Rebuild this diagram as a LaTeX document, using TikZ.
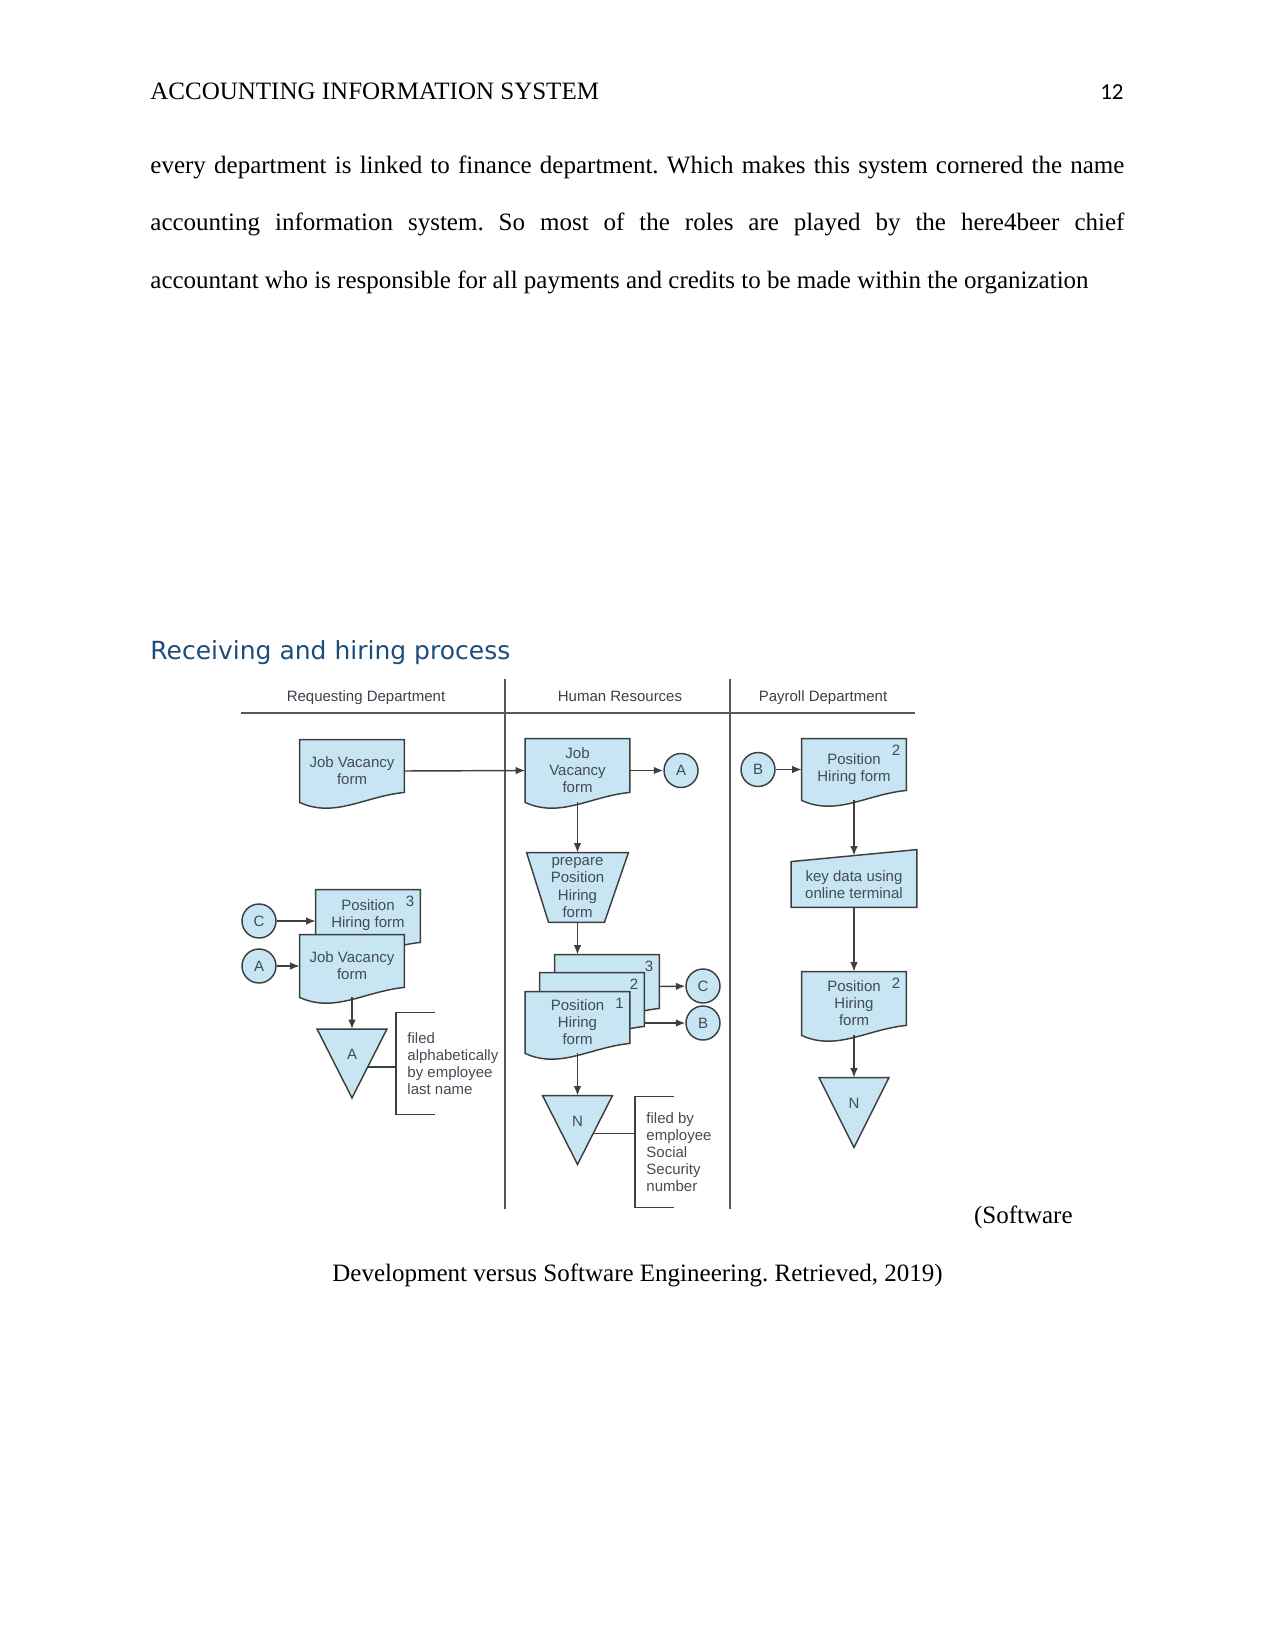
\documentclass[tikz,border=0pt]{standalone}
\usepackage{fontspec}
\setmainfont{Liberation Serif}
\newfontfamily\diagfont{Liberation Sans}
\newfontfamily\headfont{DejaVu Sans}
\newfontfamily\numfont{Carlito}
\usetikzlibrary{arrows.meta,calc,backgrounds}
\frenchspacing

\definecolor{formfill}{RGB}{200,229,243}
\definecolor{formline}{RGB}{60,62,64}
\definecolor{formtext}{RGB}{66,76,86}
\definecolor{laneline}{RGB}{88,88,88}
\definecolor{headblue}{RGB}{31,77,121}

\newcommand{\px}{*0.48pt}
\newcommand{\diagtext}{\diagfont\fontsize{7.2}{8.2}\selectfont}
\newcommand{\pagetext}{\fontsize{12}{14}\selectfont}

% outlines drawn behind the named nodes
\newcommand{\docline}[1]{\path[outline] (#1.north west) -- (#1.north east) -- ($(#1.south east)+(0,-10)$) .. controls +(-40,4) and +(35,16) .. (#1.south west) -- cycle;}
\newcommand{\fileline}[1]{\path[outline] (#1.north west) -- (#1.north east) -- (#1.south) -- cycle;}

\begin{document}
\begin{tikzpicture}[x=0.48pt,y=-0.48pt,
  outline/.style={draw=formline,fill=formfill,line width=0.7pt},
  lane/.style={draw=laneline,line width=0.7pt},
  flow/.style={draw=formline,line width=0.7pt,-{Latex[length=4.5pt,width=3.6pt]}},
  doc/.style={minimum width=104\px,minimum height=62\px,inner sep=0pt,align=center,font=\diagtext,text=formtext},
  conn/.style={circle,draw=formline,fill=formfill,line width=0.7pt,minimum size=34\px,inner sep=0pt,font=\diagtext,text=formtext},
  filebox/.style={minimum width=69\px,minimum height=68\px,inner sep=0pt,text height=5.2pt,text depth=8.6pt,font=\diagtext,text=formtext},
  note/.style={anchor=west,align=left,inner xsep=11\px,inner ysep=0pt,font=\diagtext,text=formtext},
  numlbl/.style={anchor=north east,inner sep=2.8pt,font=\diagtext,text=formtext},
  lanehead/.style={anchor=base,inner sep=0pt,font=\diagtext,text=formtext!85!black}]
\useasboundingbox (0,0) rectangle (1275,1651);

% page text
\node[anchor=base west,inner sep=0pt,font=\pagetext] (hdr) at (150,100) {ACCOUNTING INFORMATION SYSTEM};
\node[anchor=base east,inner sep=0pt,font=\numfont\fontsize{11}{13}\selectfont] (pgnum) at (1124,100) {12};
\node[anchor=base west,inner sep=0pt,font=\pagetext] (body1) at (150,174) {\makebox[467.5pt][s]{every department is linked to finance department. Which makes this system cornered the name}};
\node[anchor=base west,inner sep=0pt,font=\pagetext] (body2) at (150,231) {\makebox[467.5pt][s]{accounting information system. So most of the roles are played by the here4beer chief}};
\node[anchor=base west,inner sep=0pt,font=\pagetext] (body3) at (150,288) {accountant who is responsible for all payments and credits to be made within the organization};
\node[anchor=base west,inner sep=0pt,font=\headfont\fontsize{12}{14}\selectfont,text=headblue] (heading) at (150,659) {Receiving and hiring process};
\node[anchor=base east,inner sep=0pt,font=\pagetext] (cite1) at (1073,1223) {(Software};
\node[anchor=base,inner sep=0pt,font=\pagetext] (cite2) at (637.5,1281) {Development versus Software Engineering. Retrieved, 2019)};

% lanes
\node[lanehead] (laneq) at (366,701) {Requesting Department};
\node[lanehead] (laneh) at (620,701) {Human Resources};
\node[lanehead] (lanep) at (823,701) {Payroll Department};
\draw[lane] (241,713) -- (915,713);
\draw[lane] (505,679) -- (505,1209);
\draw[lane] (730,679) -- (730,1209);

% requesting department
\node[doc] (rdjv) at (352,771) {Job Vacancy\\form};
\node[doc,text depth=7.3pt] (rdphf) at (368,921) {Position\\Hiring form};
\node[numlbl] (rdphfnum) at (rdphf.north east) {3};
\node[doc] (rdjvb) at (352,966) {Job Vacancy\\form};
\node[conn] (rdc) at (259,921) {C};
\node[conn] (rda) at (259,966) {A};
\node[filebox] (rdfile) at (352,1063.5) {A};
\node[note,minimum height=101\px] (rdnote) at (396,1063.5) {filed\\alphabetically\\by employee\\last name};

% human resources
\node[doc,minimum height=63\px] (hrjv) at (577.5,770.5) {Job\\Vacancy\\form};
\node[conn] (hra) at (681,770.5) {A};
\node[minimum width=101\px,minimum height=69\px,inner sep=0pt,align=center,font=\diagtext,text=formtext] (prep) at (577.5,887.5) {prepare\\Position\\Hiring\\form};
\node[doc,minimum height=63\px] (hrdoc3) at (607,986.5) {};
\node[numlbl] (hrnum3) at (hrdoc3.north east) {3};
\node[doc,minimum height=63\px] (hrdoc2) at (592,1004.5) {};
\node[numlbl] (hrnum2) at (hrdoc2.north east) {2};
\node[doc,minimum height=61\px] (hrdoc1) at (577.5,1022.5) {Position\\Hiring\\form};
\node[numlbl] (hrnum1) at (hrdoc1.north east) {1};
\node[conn] (hrc) at (703,986) {C};
\node[conn] (hrb) at (703,1023) {B};
\node[filebox] (hrfile) at (577.5,1130) {N};
\node[note,minimum height=110\px] (hrnote) at (635,1152) {filed by\\employee\\Social\\Security\\number};

% payroll department
\node[conn] (payb) at (758,769.5) {B};
\node[doc,minimum height=61\px] (payphf) at (854,769.5) {Position\\Hiring form};
\node[numlbl] (payphfnum) at (payphf.north east) {2};
\node[minimum width=125\px,minimum height=45\px,inner sep=0pt,align=center,font=\diagtext,text=formtext] (keyin) at (854,884.5) {key data using\\online terminal};
\node[doc,minimum height=63\px] (payphfb) at (854,1003.5) {Position\\Hiring\\form};
\node[numlbl] (payphfbnum) at (payphfb.north east) {2};
\node[filebox,text depth=9.2pt,minimum height=69\px] (payfile) at (854,1112.5) {N};

\begin{scope}[on background layer]
  \docline{rdjv}
  \docline{rdphf}
  \docline{rdjvb}
  \fileline{rdfile}
  \docline{hrjv}
  \path[outline] (prep.north west) -- (prep.north east) -- ($(prep.south east)+(-24,0)$) -- ($(prep.south west)+(22,0)$) -- cycle;
  \docline{hrdoc3}
  \docline{hrdoc2}
  \docline{hrdoc1}
  \fileline{hrfile}
  \docline{payphf}
  \path[outline] (keyin.south west) -- (keyin.north west) -- ($(keyin.north east)+(0,-12)$) -- (keyin.south east) -- cycle;
  \docline{payphfb}
  \fileline{payfile}
\end{scope}

% flows
\draw[flow] (rdjv.east) -- (hrjv.west);
\draw[flow] (hrjv.east) -- (hra);
\draw[flow] (hrjv.south) -- (prep.north);
\draw[flow] (prep.south) -- (prep.south |- hrdoc3.north);
\draw[flow] (hrdoc3.east) -- (hrc);
\draw[flow] (hrdoc2.east |- hrb) -- (hrb);
\draw[flow] (hrdoc1.south) -- (hrfile.north);
\draw[flow] (payb) -- (payphf.west);
\draw[flow] (payphf.south) -- ($(keyin.north)+(0,-6)$);
\draw[flow] (keyin.south) -- (payphfb.north);
\draw[flow] (payphfb.south) -- (payfile.north);
\draw[flow] (rdc) -- (rdphf.west);
\draw[flow] (rda) -- (rdjvb.west);
\draw[flow] (rdjvb.south) -- (rdfile.north);

% brackets for the files
\coordinate (rdtie) at ($(rdfile.north east)!0.55!(rdfile.south)$);
\draw[formline,line width=0.7pt] (rdtie) -- (rdtie -| rdnote.west);
\draw[formline,line width=0.7pt] ($(rdnote.north west)+(39,0)$) -- (rdnote.north west) -- (rdnote.south west) -- +(39,0);
\coordinate (hrtie) at ($(hrfile.north east)!0.55!(hrfile.south)$);
\draw[formline,line width=0.7pt] (hrtie) -- (hrtie -| hrnote.west);
\draw[formline,line width=0.7pt] ($(hrnote.north west)+(39,0)$) -- (hrnote.north west) -- (hrnote.south west) -- +(39,0);
\end{tikzpicture}
\end{document}
